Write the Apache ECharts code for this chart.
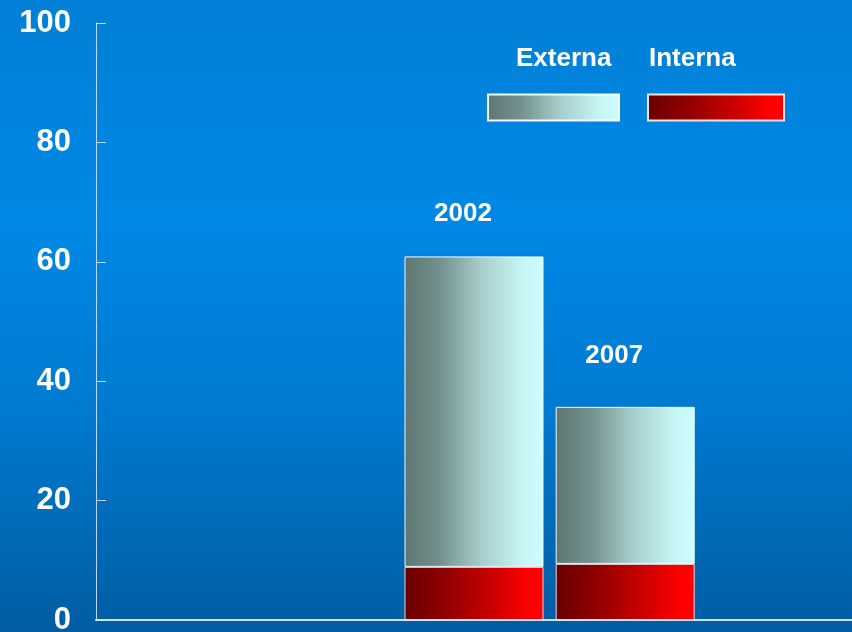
<!DOCTYPE html>
<html>
<head>
<meta charset="utf-8">
<script src="https://cdn.jsdelivr.net/npm/echarts@6/dist/echarts.min.js"></script>
<style>
html,body{margin:0;padding:0;overflow:hidden;}
#c{width:852px;height:632px;}
</style>
</head>
<body>
<div id="c"></div>
<script>
// ---- data ----
var categories = ['', '', '2002', '2007', ''];
var seriesNames = ['Externa', 'Interna'];
var interna = [null, null, 8.9, 9.4, null];
var externa = [null, null, 52.0, 26.3, null];
var yTicks = [0, 20, 40, 60, 80, 100];

// ---- styles ----
var FONT = '"Liberation Sans", Arial, sans-serif';
var gradExterna = function () {
  return new echarts.graphic.LinearGradient(0, 0, 1, 0, [
    { offset: 0, color: '#5e7674' },
    { offset: 0.25, color: '#72908d' },
    { offset: 0.55, color: '#a6cdcb' },
    { offset: 0.85, color: '#c6f6f4' },
    { offset: 1, color: '#ccfefe' }
  ]);
};
var gradInterna = function () {
  return new echarts.graphic.LinearGradient(0, 0, 1, 0, [
    { offset: 0, color: '#680000' },
    { offset: 0.35, color: '#9a0000' },
    { offset: 0.7, color: '#d80000' },
    { offset: 0.9, color: '#ff0000' },
    { offset: 1, color: '#ff0000' }
  ]);
};
var labelDistance = [0, 0, 30, 38, 0];

var chart = echarts.init(document.getElementById('c'));
var option = {
  animation: false,
  backgroundColor: {
    type: 'linear', x: 0, y: 0, x2: 0, y2: 1,
    colorStops: [
      { offset: 0, color: '#0080d6' },
      { offset: 0.35, color: '#0088e6' },
      { offset: 0.65, color: '#007ad0' },
      { offset: 1, color: '#005da3' }
    ]
  },
  grid: { left: 96, right: 0, top: 23, bottom: 12, containLabel: false, outerBoundsMode: 'none' },
  xAxis: {
    type: 'category',
    data: categories,
    axisLine: { lineStyle: { color: 'rgba(230,240,250,0.9)', width: 2 } },
    axisTick: { show: false },
    axisLabel: { show: false },
    splitLine: { show: false }
  },
  yAxis: {
    type: 'value',
    min: yTicks[0],
    max: yTicks[yTicks.length - 1],
    interval: yTicks[1] - yTicks[0],
    axisLine: { show: true, lineStyle: { color: 'rgba(220,235,250,0.85)', width: 1 } },
    axisTick: { show: true, inside: true, length: 10, lineStyle: { color: 'rgba(220,235,250,0.85)' } },
    splitLine: { show: false },
    axisLabel: {
      color: '#ffffff', fontSize: 31, fontWeight: 'bold', fontFamily: FONT, margin: 25
    }
  },
  series: [
    {
      name: seriesNames[1],
      type: 'bar',
      stack: 'total',
      barWidth: 139,
      data: interna,
      itemStyle: { color: gradInterna(), borderColor: 'rgba(255,230,230,0.9)', borderWidth: 1 }
    },
    {
      name: seriesNames[0],
      type: 'bar',
      stack: 'total',
      barWidth: 139,
      data: externa.map(function (v, i) {
        return {
          value: v,
          label: { distance: labelDistance[i] }
        };
      }),
      itemStyle: { color: gradExterna(), borderColor: 'rgba(255,255,255,0.95)', borderWidth: 1 },
      label: {
        show: true,
        position: 'top',
        offset: [-11, 0],
        formatter: '{b}',
        color: '#ffffff',
        fontSize: 26,
        fontWeight: 'bold',
        fontFamily: FONT
      }
    }
  ],
  graphic: [
    { type: 'text', left: 516, top: 46, style: { text: seriesNames[0], fill: '#fff', font: 'bold 26px ' + FONT } },
    { type: 'text', left: 649, top: 46, style: { text: seriesNames[1], fill: '#fff', font: 'bold 26px ' + FONT } },
    { type: 'rect', shape: { x: 488, y: 94.5, width: 131, height: 26 },
      style: { fill: gradExterna(), stroke: 'rgba(255,255,255,0.95)', lineWidth: 2 } },
    { type: 'rect', shape: { x: 648, y: 94.5, width: 136, height: 26 },
      style: { fill: gradInterna(), stroke: 'rgba(255,235,235,0.95)', lineWidth: 2 } }
  ]
};
chart.setOption(option);
</script>
</body>
</html>
